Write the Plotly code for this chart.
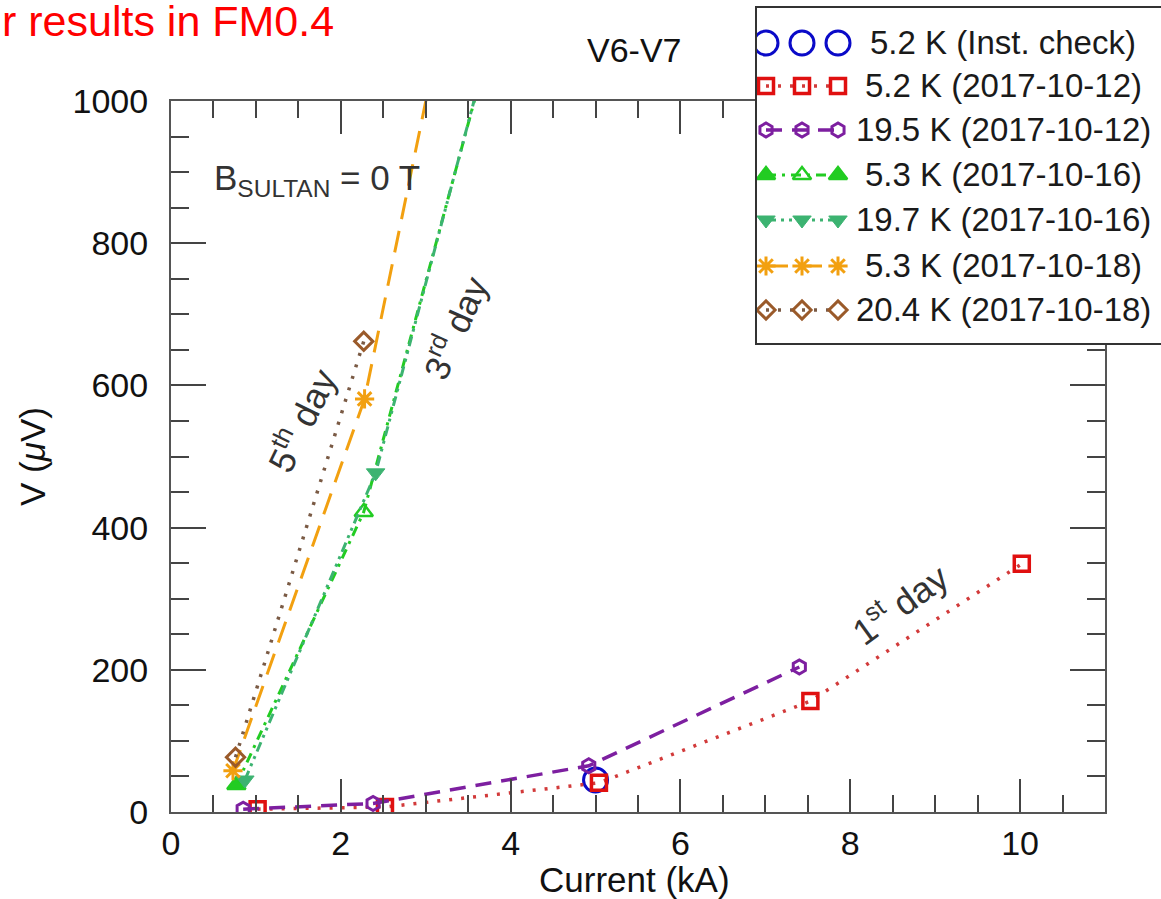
import plotly.graph_objects as go

W, H = 1161, 899

# ---------------- data (Current in kA, V in microvolt) ----------------
inst_I = [5.0]
inst_V = [45]

d1012_52_I = [1.02, 2.52, 5.04, 7.53, 10.02]
d1012_52_V = [4, 7, 41, 156, 349]

d1012_195_I = [0.85, 2.38, 4.92, 7.40]
d1012_195_V = [4, 12, 65, 204]

d1016_53_I = [0.77, 2.27, 4.0]
d1016_53_V = [38, 422, 1190]

d1016_197_I = [0.87, 2.41, 4.0]
d1016_197_V = [45, 477, 1195]

d1018_53_I = [0.73, 2.28, 3.5]
d1018_53_V = [58, 581, 1290]

d1018_204_I = [0.76, 2.27]
d1018_204_V = [77, 662]

labels = ["5.2 K (Inst. check)", "5.2 K (2017-10-12)", "19.5 K (2017-10-12)",
          "5.3 K (2017-10-16)", "19.7 K (2017-10-16)", "5.3 K (2017-10-18)",
          "20.4 K (2017-10-18)"]

x_ticks = [0, 2, 4, 6, 8, 10]
y_ticks = [0, 200, 400, 600, 800, 1000]

# ---------------- styles ----------------
series = [
    dict(I=inst_I, V=inst_V, mode="markers", color="#0a0ac8",
         symbol="circle-open", size=24, mlw=3, dash=None, lw=0, lcolor=None),
    dict(I=d1012_52_I, V=d1012_52_V, mode="lines+markers", color="#e01010",
         symbol="square-open", size=15, mlw=3.5, dash="3px,9px", lw=3.5, lcolor="#d23a3a"),
    dict(I=d1012_195_I, V=d1012_195_V, mode="lines+markers", color="#7d1fa0",
         symbol="hexagon-open", size=14, mlw=3, dash="16px,10px", lw=3.5, lcolor="#7d1fa0"),
    dict(I=d1016_53_I, V=d1016_53_V, mode="lines+markers", color="#22cc22",
         symbol=["triangle-up", "triangle-up-open", "triangle-up"], size=16, mlw=2.5,
         dash="10px,6px,3px,6px", lw=3, lcolor="#22cc22"),
    dict(I=d1016_197_I, V=d1016_197_V, mode="lines+markers", color="#3cb371",
         symbol="triangle-down", size=16, mlw=1, dash="10px,5px,3px,5px,3px,5px", lw=3,
         lcolor="#3cb371"),
    dict(I=d1018_53_I, V=d1018_53_V, mode="lines+markers", color="#f2a010",
         symbol="asterisk-open", size=16, mlw=3, dash="22px,12px", lw=3, lcolor="#f2a010"),
    dict(I=d1018_204_I, V=d1018_204_V, mode="lines+markers", color="#9a5a2a",
         symbol="diamond-open", size=14, mlw=3, dash="3px,9px", lw=3.5, lcolor="#7a5a44"),
]

fig = go.Figure()

for s in series:
    line = dict(color=s["lcolor"] or s["color"], width=s["lw"] or 1)
    if s["dash"]:
        line["dash"] = s["dash"]
    fig.add_trace(go.Scatter(
        x=s["I"], y=s["V"], mode=s["mode"], showlegend=False,
        line=line,
        marker=dict(symbol=s["symbol"], size=s["size"], color=s["color"],
                    line=dict(color=s["color"], width=s["mlw"])),
        xaxis="x", yaxis="y"))

# ---------------- custom legend (subplot x2/y2 in pixel units) ----------------
row_y = [43, 86, 130, 175, 220, 266, 310]
for s, ry, lab in zip(series, row_y, labels):
    line = dict(color=s["lcolor"] or s["color"], width=s["lw"] or 1)
    if s["dash"]:
        line["dash"] = s["dash"]
    sym = s["symbol"]
    if isinstance(sym, list):
        sym = sym[:3]
    fig.add_trace(go.Scatter(
        x=[766, 802, 838], y=[ry, ry, ry], mode=s["mode"], showlegend=False,
        line=line,
        marker=dict(symbol=sym, size=s["size"], color=s["color"],
                    line=dict(color=s["color"], width=s["mlw"])),
        xaxis="x2", yaxis="y2", hoverinfo="skip"))
    fig.add_annotation(x=1003, y=ry, xref="x2", yref="y2", text=lab, showarrow=False,
                       xanchor="center", yanchor="middle",
                       font=dict(size=33, color="#1a1a1a"))

FONT = "Liberation Sans, Arial, Helvetica, sans-serif"

x0px, x1px, ytop, ybot = 171, 1105, 101, 812
fig.update_layout(
    template="none",
    width=W, height=H, autosize=False,
    margin=dict(l=0, r=0, t=0, b=0, pad=0),
    paper_bgcolor="white", plot_bgcolor="white",
    font=dict(family=FONT, color="#111111"),
    xaxis=dict(domain=[x0px / W, x1px / W], range=[0, 11], tickvals=x_ticks,
               ticks="inside", ticklen=33, tickwidth=1.5, tickcolor="#444444",
               minor=dict(dtick=0.5, tick0=0, ticks="inside", ticklen=17,
                          tickwidth=1.5, tickcolor="#444444"),
               showline=True, linecolor="#555555", linewidth=2, mirror="ticks",
               showgrid=False, zeroline=False, tickfont=dict(size=34, color="#111111"),
               ticklabelstandoff=0, anchor="y", automargin=False),
    yaxis=dict(domain=[(H - ybot) / H, (H - ytop) / H], range=[0, 1000], tickvals=y_ticks,
               ticks="inside", ticklen=35, tickwidth=1.5, tickcolor="#444444",
               minor=dict(dtick=50, tick0=0, ticks="inside", ticklen=18,
                          tickwidth=1.5, tickcolor="#444444"),
               showline=True, linecolor="#555555", linewidth=2, mirror="ticks",
               showgrid=False, zeroline=False, tickfont=dict(size=34, color="#111111"),
               ticklabelstandoff=14, anchor="x", automargin=False),
    xaxis2=dict(domain=[757 / W, 1.0], range=[757, 1161], showticklabels=False,
                ticks="", showgrid=False, zeroline=False, showline=True,
                linecolor="#333333", linewidth=2, mirror=True, anchor="y2",
                fixedrange=True, automargin=False),
    yaxis2=dict(domain=[(H - 343) / H, (H - 8) / H], range=[343, 8], showticklabels=False,
                ticks="", showgrid=False, zeroline=False, showline=True,
                linecolor="#333333", linewidth=2, mirror=False, anchor="x2",
                fixedrange=True, automargin=False),
)

# ---------------- text ----------------
fig.add_annotation(x=0, y=1 - 21 / H, xref="paper", yref="paper",
                   text="r results in FM0.4", showarrow=False, xanchor="left",
                   yanchor="middle", font=dict(size=43, color="#ff0000"))
fig.add_annotation(x=634 / W, y=1 - 50 / H, xref="paper", yref="paper",
                   text="V6-V7", showarrow=False, xanchor="center", yanchor="middle",
                   font=dict(size=34, color="#111111"))
fig.add_annotation(x=0.48, y=889, xref="x", yref="y",
                   text="B<sub>SULTAN</sub> = 0 T", showarrow=False, xanchor="left",
                   yanchor="middle", font=dict(size=35, color="#333333"))
fig.add_annotation(x=1.52, y=551, xref="x", yref="y", text="5<sup>th</sup> day",
                   showarrow=False, textangle=-64, font=dict(size=36, color="#333333"))
fig.add_annotation(x=3.33, y=682, xref="x", yref="y", text="3<sup>rd</sup> day",
                   showarrow=False, textangle=-66, font=dict(size=35, color="#333333"))
fig.add_annotation(x=8.57, y=294, xref="x", yref="y", text="1<sup>st</sup> day",
                   showarrow=False, textangle=-36, font=dict(size=36, color="#333333"))
fig.add_annotation(x=635 / W, y=1 - 879 / H, xref="paper", yref="paper",
                   text="Current (kA)", showarrow=False, xanchor="center",
                   yanchor="middle", font=dict(size=35, color="#111111"))
fig.add_annotation(x=32 / W, y=1 - 457 / H, xref="paper", yref="paper",
                   text="V (<i>μ</i>V)", showarrow=False, textangle=-90,
                   xanchor="center", yanchor="middle", font=dict(size=35, color="#111111"))

fig.write_html("out.html", config={"displayModeBar": False},
               post_script="document.body.style.margin='0px';document.body.style.overflow='hidden';")
